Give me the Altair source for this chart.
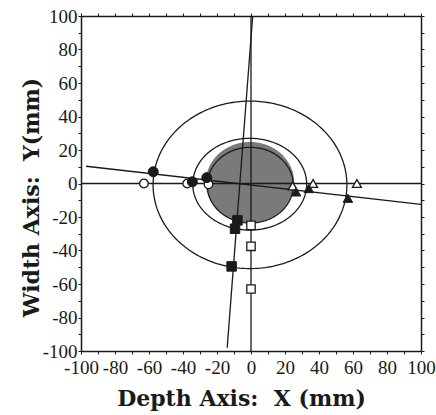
import altair as alt
import numpy as np
import pandas as pd

# ---- data ----
tick_vals = list(range(-100, 101, 10))

# filled circles
fc_x = [-57.5, -34.5, -26.0]
fc_y = [7.0, 1.0, 3.5]
# open circles
oc_x = [-63.0, -37.5, -25.0]
oc_y = [0.0, 0.0, -0.5]
# filled triangles
ft_x = [26.5, 34.0, 57.0]
ft_y = [-5.0, -3.0, -8.8]
# open triangles
ot_x = [24.5, 36.5, 62.3]
ot_y = [-1.5, 0.0, 0.0]
# filled squares
fs_x = [-8.0, -9.4, -11.4]
fs_y = [-22.0, -27.0, -49.5]
# open squares
os_x = [0.0, 0.0, 0.0]
os_y = [-25.0, -37.5, -63.0]

# straight lines (endpoints)
hline_x = [-100, 100]
hline_y = [0, 0]
vline_x = [0, 0]
vline_y = [-100, 100]
tilt1_x = [-97, 100]
tilt1_y = [10.3, -12.5]
tilt2_x = [1, -14]
tilt2_y = [100, -98]

# ellipses: centre x, centre y, radius x, radius y
ell_names = ["outer", "middle", "inner"]
ell_cx = [-0.6, -0.75, -0.4]
ell_cy = [-0.8, -0.4, -1.0]
ell_rx = [57.0, 33.5, 25.3]
ell_ry = [50.0, 27.4, 22.6]

# shaded region: centre and radii
gray_cx, gray_cy, gray_rx, gray_ry = -0.6, 0.6, 26.0, 24.2

# ---- build tables ----
t = np.linspace(0, 2 * np.pi, 241)
ell_rows = []
for n, cx, cy, rx, ry in zip(ell_names, ell_cx, ell_cy, ell_rx, ell_ry):
    for i, tt in enumerate(t):
        ell_rows.append({"e": n, "o": i, "x": cx + rx * np.cos(tt), "y": cy + ry * np.sin(tt)})
ell_df = pd.DataFrame(ell_rows)

th = np.linspace(0, np.pi, 121)
gray_df = pd.DataFrame({
    "x": gray_cx + gray_rx * np.cos(th),
    "y": gray_cy + gray_ry * np.sin(th),
    "y2": gray_cy - gray_ry * np.sin(th),
})

line_df = pd.DataFrame(
    [{"l": "h", "o": i, "x": a, "y": b} for i, (a, b) in enumerate(zip(hline_x, hline_y))]
    + [{"l": "v", "o": i, "x": a, "y": b} for i, (a, b) in enumerate(zip(vline_x, vline_y))]
    + [{"l": "t1", "o": i, "x": a, "y": b} for i, (a, b) in enumerate(zip(tilt1_x, tilt1_y))]
    + [{"l": "t2", "o": i, "x": a, "y": b} for i, (a, b) in enumerate(zip(tilt2_x, tilt2_y))]
)

def pts(xs, ys):
    return pd.DataFrame({"x": xs, "y": ys})

sc = alt.Scale(domain=[-100, 100], nice=False, zero=False)
X = alt.X("x:Q", scale=sc, axis=None)
Y = alt.Y("y:Q", scale=sc, axis=None)

FONT = "Liberation Serif"
TFONT = "DejaVu Serif"
INK = "#1a1a1a"

gray = alt.Chart(gray_df).mark_area(color="#7a7a7a", opacity=1).encode(
    x=X, y=Y, y2="y2:Q"
)
ellipses = alt.Chart(ell_df).mark_line(color=INK, strokeWidth=1.3).encode(
    x=X, y=Y, detail="e:N", order="o:Q"
)
lines = alt.Chart(line_df).mark_line(color=INK, strokeWidth=1.3).encode(
    x=X, y=Y, detail="l:N", order="o:Q"
)

def marker(xs, ys, shape, filled, size):
    if filled:
        m = alt.Chart(pts(xs, ys)).mark_point(shape=shape, filled=True, fill=INK,
                                              stroke=INK, strokeWidth=1, size=size, opacity=1)
    else:
        m = alt.Chart(pts(xs, ys)).mark_point(shape=shape, filled=False, fill="white",
                                              fillOpacity=1, stroke=INK, strokeWidth=1.3,
                                              size=size, opacity=1)
    return m.encode(x=X, y=Y)

markers = [
    marker(oc_x, oc_y, "circle", False, 75),
    marker(fc_x, fc_y, "circle", True, 100),
    marker(ot_x, ot_y, "triangle-up", False, 80),
    marker(ft_x, ft_y, "triangle-up", True, 90),
    marker(os_x, os_y, "square", False, 70),
    marker(fs_x, fs_y, "square", True, 90),
]

frame_df = pd.DataFrame({"x": [-100, 100], "y": [-100, 100]})
label_expr = "datum.value % 20 == 0 ? '' + datum.value : ''"

main_axes = alt.Chart(frame_df).mark_point(opacity=0).encode(
    x=alt.X("x:Q", scale=sc, axis=alt.Axis(
        values=tick_vals, labelExpr=label_expr,
        labelOverlap=False, labelFlush=False, labelBound=False,
        title="Depth Axis:\u00a0 X (mm)",
        titleX=160, titleY=47, titleBaseline="middle", titleAlign="center",
        labelPadding=4, grid=False)),
    y=alt.Y("y:Q", scale=sc, axis=alt.Axis(
        values=tick_vals, labelExpr=label_expr,
        labelOverlap=False, labelFlush=False, labelBound=False,
        title="Width Axis:\u00a0 Y(mm)",
        titleX=-50, titleY=181, titleBaseline="middle", titleAlign="center", titleAngle=270,
        labelPadding=1, grid=False)),
)
frame_axes = alt.Chart(frame_df).mark_point(opacity=0).encode(
    x=alt.X("x:Q", scale=sc, axis=alt.Axis(orient="top", values=tick_vals,
                                           labels=False, title=None, grid=False)),
    y=alt.Y("y:Q", scale=sc, axis=alt.Axis(orient="right", values=tick_vals,
                                           labels=False, title=None, grid=False)),
)

chart = alt.layer(gray, ellipses, lines, *markers, main_axes, frame_axes).resolve_axis(
    x="independent", y="independent"
).properties(
    width=340, height=335,
    background="white",
    autosize=alt.AutoSizeParams(type="none"),
    padding={"left": 81, "top": 16, "right": 15, "bottom": 64},
).configure_view(stroke=None).configure_axis(
    domainColor=INK, domainWidth=1.5, tickColor=INK, tickWidth=1, tickSize=3,
    labelFont=FONT, labelFontSize=19, labelColor=INK,
    titleFont=TFONT, titleFontSize=22, titleFontWeight="bold", titleColor=INK,
)

chart.save("out.html", embed_options={"renderer": "svg", "actions": False})
